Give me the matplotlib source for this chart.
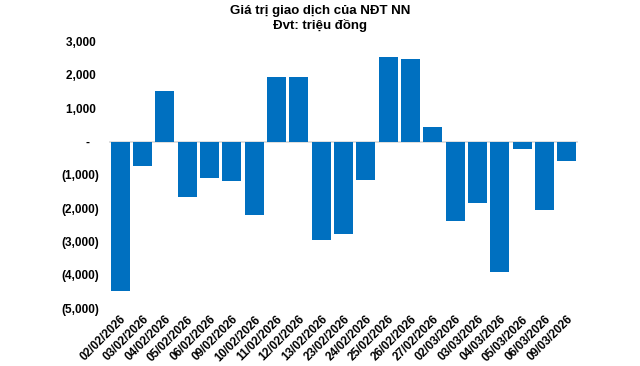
import matplotlib
matplotlib.use('Agg')
import matplotlib.pyplot as plt
from matplotlib.ticker import FuncFormatter

plt.rcParams['font.family'] = ['Liberation Sans', 'DejaVu Sans']

# data (triệu đồng)
dates = ['02/02/2026', '03/02/2026', '04/02/2026', '05/02/2026', '06/02/2026',
         '09/02/2026', '10/02/2026', '11/02/2026', '12/02/2026', '13/02/2026',
         '23/02/2026', '24/02/2026', '25/02/2026', '26/02/2026', '27/02/2026',
         '02/03/2026', '03/03/2026', '04/03/2026', '05/03/2026', '06/03/2026',
         '09/03/2026']
values = [-4500, -740, 1530, -1675, -1100,
          -1190, -2215, 1925, 1925, -2970,
          -2790, -1165, 2555, 2495, 450,
          -2395, -1855, -3930, -230, -2065,
          -590]
yticks = [3000, 2000, 1000, 0, -1000, -2000, -3000, -4000, -5000]

# accounting style like excel: (x) for negatives, "-" for zero
def acc_fmt(v, pos):
    if v == 0:
        return '-   '
    if v < 0:
        return '({:,.0f})'.format(-v)
    return '{:,.0f} '.format(v)

fig = plt.figure(figsize=(6.4, 3.66), dpi=100)
ax = fig.add_axes([109 / 640, 1 - 308 / 366, 469 / 640, (308 - 41.7) / 366])

xs = range(len(dates))
ax.bar(xs, values, width=0.84, color='#0070C0', zorder=2)
ax.axhline(0, color='#D9D9D9', linewidth=1.2, zorder=1)

ax.set_xlim(-0.5, len(dates) - 0.5)
ax.set_ylim(-5000, 3000)
ax.set_yticks(yticks)
ax.yaxis.set_major_formatter(FuncFormatter(acc_fmt))
ax.set_xticks(list(xs))
ax.set_xticklabels(dates, rotation=45, ha='right', rotation_mode='anchor')

for s in ax.spines.values():
    s.set_visible(False)
ax.tick_params(axis='both', length=0)
ax.tick_params(axis='y', pad=7, labelsize=8.5)
ax.tick_params(axis='x', pad=4, labelsize=8.5)
for lab in ax.get_yticklabels() + ax.get_xticklabels():
    lab.set_fontweight('bold')

fig.text(0.5, 0.95, 'Giá trị giao dịch của NĐT NN\nĐvt: triệu đồng',
         ha='center', va='center', fontsize=9.5, fontweight='bold',
         linespacing=1.2)

fig.savefig('out.png', dpi=100)
